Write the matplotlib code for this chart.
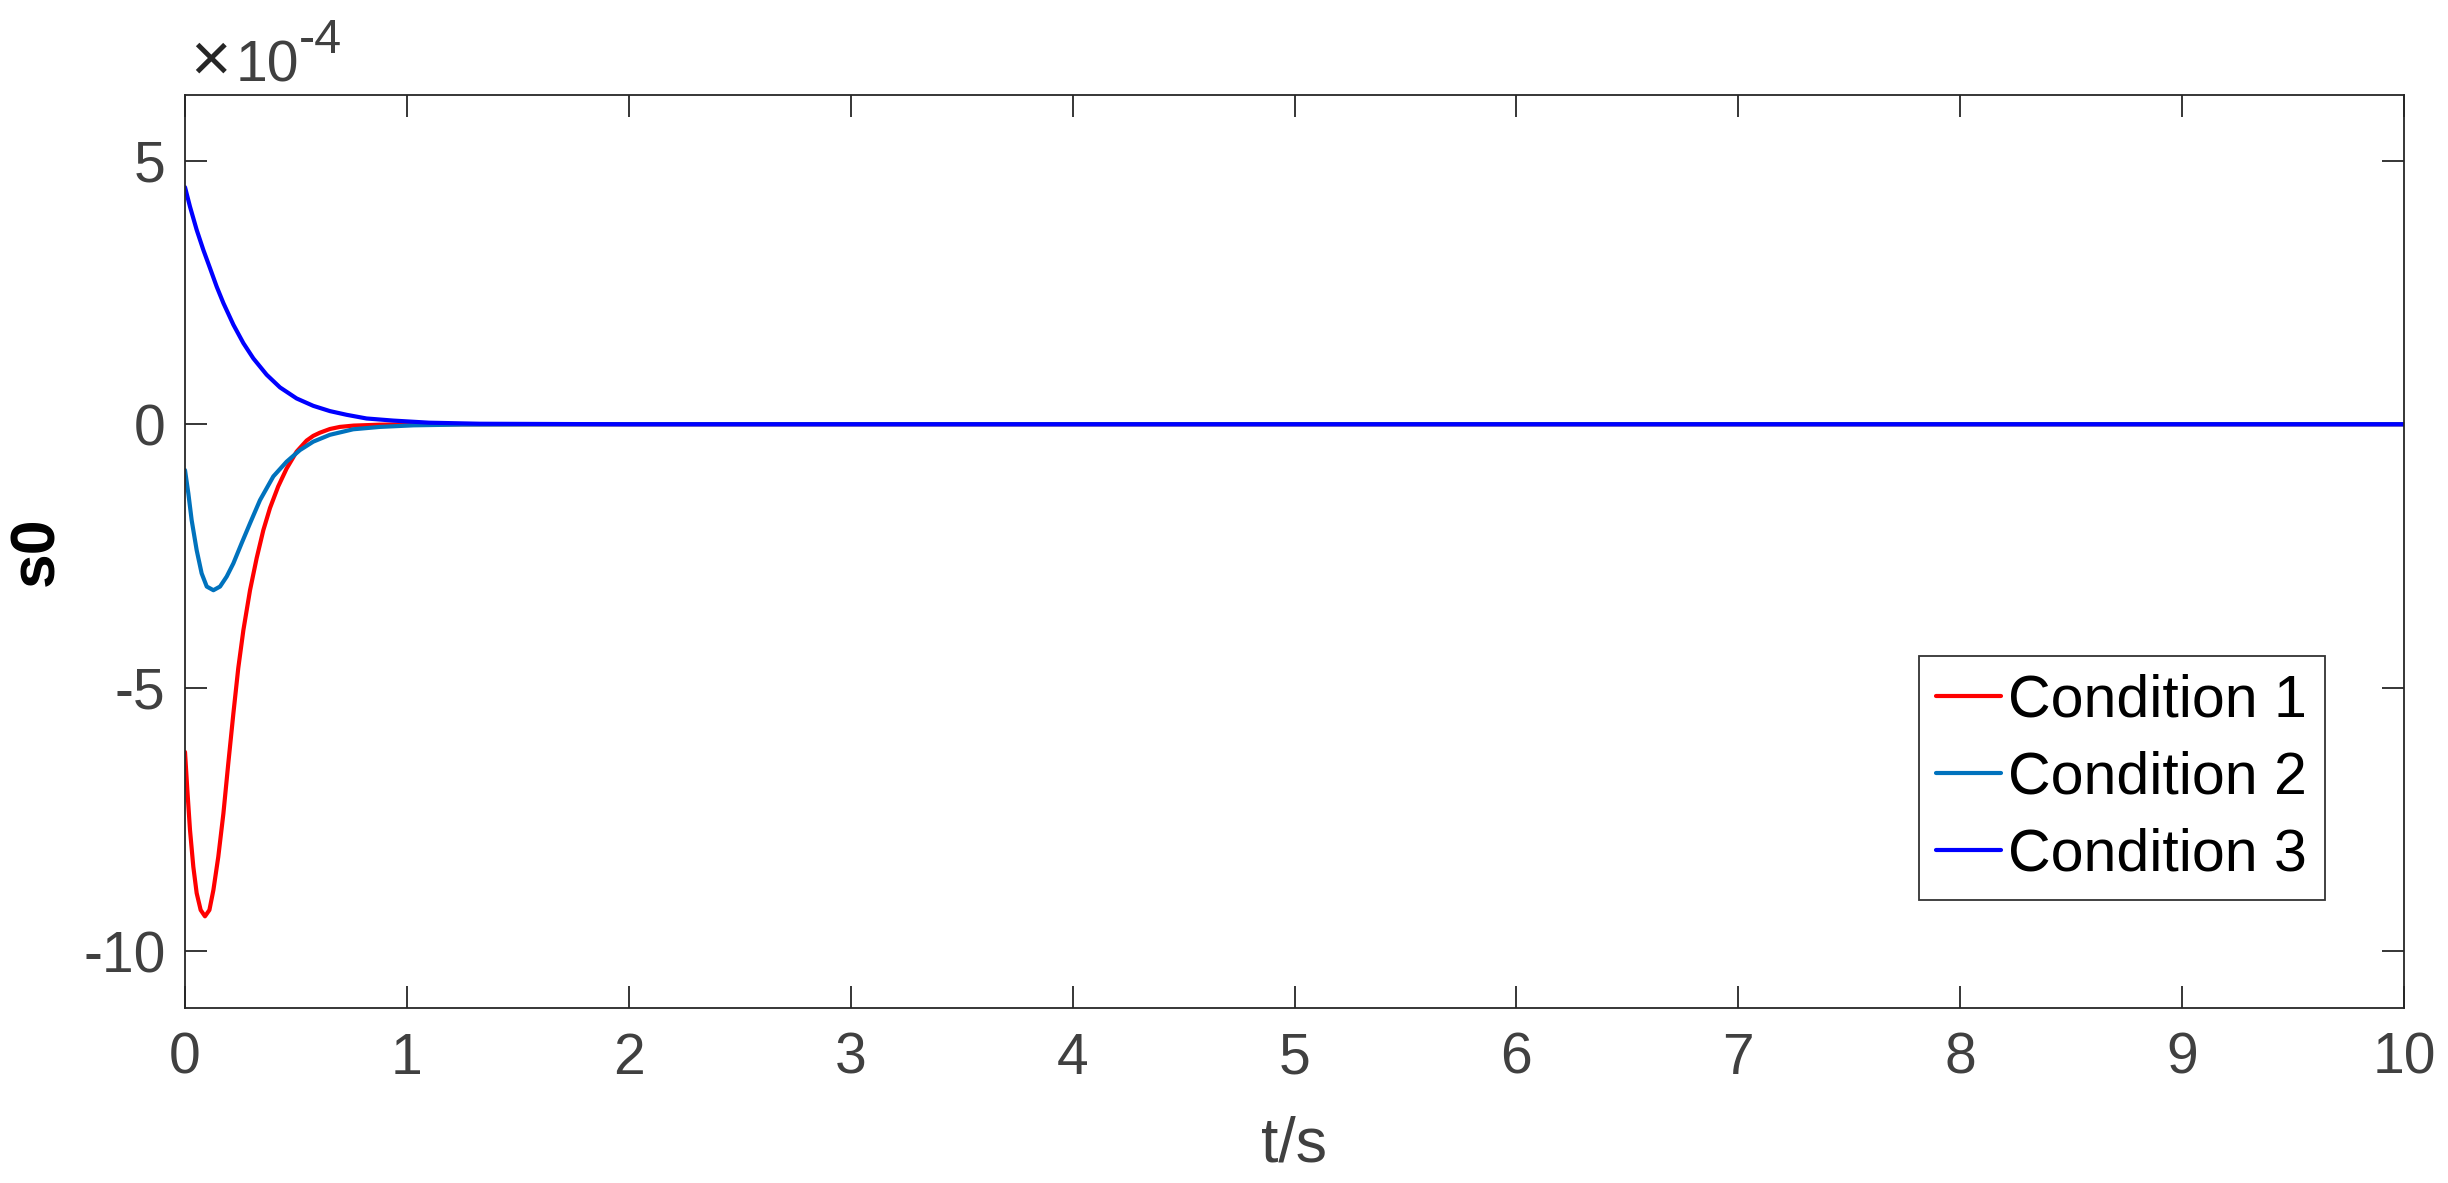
import matplotlib
matplotlib.use("Agg")
import matplotlib.pyplot as plt
from matplotlib.ticker import FixedLocator

plt.rcParams['font.family'] = ['Liberation Sans', 'DejaVu Sans']
plt.rcParams['axes.unicode_minus'] = False

# ---- data (values in units of 1e-4) ----
t1 = [0, 0.0105, 0.0225, 0.0375, 0.0526, 0.0706, 0.090, 0.110, 0.128, 0.150,
      0.173, 0.195, 0.218, 0.240, 0.263, 0.293, 0.323, 0.353, 0.383, 0.420,
      0.458, 0.503, 0.548, 0.578, 0.608, 0.653, 0.698, 0.760, 0.878, 1.03,
      1.5, 10.0]
s1 = [-6.22, -6.94, -7.70, -8.40, -8.90, -9.22, -9.34, -9.22, -8.84, -8.21,
      -7.39, -6.44, -5.49, -4.63, -3.91, -3.15, -2.54, -2.01, -1.59, -1.18,
      -0.84, -0.52, -0.31, -0.22, -0.16, -0.09, -0.05, -0.025, -0.008, 0.0,
      0.0, 0.0]

t2 = [0, 0.015, 0.030, 0.0526, 0.075, 0.098, 0.128, 0.158, 0.188, 0.218,
      0.255, 0.293, 0.338, 0.398, 0.458, 0.518, 0.578, 0.653, 0.758, 0.878,
      1.03, 1.25, 2.0, 10.0]
s2 = [-0.87, -1.31, -1.82, -2.39, -2.83, -3.08, -3.15, -3.08, -2.89, -2.64,
      -2.26, -1.88, -1.44, -0.99, -0.71, -0.49, -0.33, -0.20, -0.095, -0.05,
      -0.02, -0.005, 0.0, 0.0]

t3 = [0, 0.0225, 0.0526, 0.0826, 0.113, 0.143, 0.173, 0.218, 0.263, 0.308,
      0.368, 0.428, 0.503, 0.578, 0.653, 0.728, 0.818, 0.938, 1.10, 1.33,
      2.0, 10.0]
s3 = [4.50, 4.13, 3.69, 3.31, 2.96, 2.61, 2.30, 1.89, 1.54, 1.25,
      0.94, 0.70, 0.49, 0.35, 0.25, 0.18, 0.11, 0.07, 0.03, 0.01,
      0.0, 0.0]

labels = ['Condition 1', 'Condition 2', 'Condition 3']
colors = ['#FF0000', '#0072BD', '#0000FF']
xticks = list(range(0, 11))
yticks = [-10, -5, 0, 5]
scale = 1e-4

W, H = 2448, 1183
fig = plt.figure(figsize=(W / 100, H / 100), dpi=100)
ax = fig.add_axes([185 / W, 1 - 1008 / H, (2404 - 185) / W, (1008 - 95) / H])

for t, s, lab, c in zip([t1, t2, t3], [s1, s2, s3], labels, colors):
    ax.plot(t, [v * scale for v in s], color=c, lw=3.0, label=lab,
            solid_joinstyle='round', solid_capstyle='round')

ax.set_xlim(0, 10)
ax.set_ylim(-11.08 * scale, 6.25 * scale)
ax.xaxis.set_major_locator(FixedLocator(xticks))
ax.set_xticklabels([str(v) for v in xticks])
ax.yaxis.set_major_locator(FixedLocator([v * scale for v in yticks]))
ax.set_yticklabels([str(v) for v in yticks])

axc = '#262626'
for sp in ax.spines.values():
    sp.set_linewidth(1.3)
    sp.set_color(axc)
ax.tick_params(direction='in', length=16, width=1.3, color=axc,
               labelsize=41, labelcolor='#404040', top=True, right=True)
ax.tick_params(axis='x', pad=17)
ax.tick_params(axis='y', pad=14)

xl = ax.set_xlabel('t/s', fontsize=45, color='#404040')
ax.xaxis.set_label_coords(0.5, -0.150)
xl.set_va('center')
yl = ax.set_ylabel('s0', fontsize=45, color='black', fontweight='bold')
ax.yaxis.set_label_coords(-0.0667, 0.5)
yl.set_va('center')

# exponent label
fig.text(190 / W, 1 - 81 / H, '\u00d7', fontsize=50, color='#262626', va='baseline', ha='left')
fig.text(236 / W, 1 - 81 / H, '10', fontsize=41, color='#404040', va='baseline', ha='left')
fig.text(299 / W, 1 - 53 / H, '-4', fontsize=35, color='#404040', va='baseline', ha='left')

leg = ax.legend(loc='upper right', bbox_to_anchor=(0.9644, 0.3855), borderaxespad=0,
                fontsize=42.5, frameon=True, fancybox=False, edgecolor='black',
                handlelength=1.1, handletextpad=0.12, borderpad=0.3, labelspacing=0.37)
leg.get_frame().set_linewidth(1.3)
for txt in leg.get_texts():
    txt.set_color('black')

fig.savefig('out.png', dpi=100, facecolor='white')
